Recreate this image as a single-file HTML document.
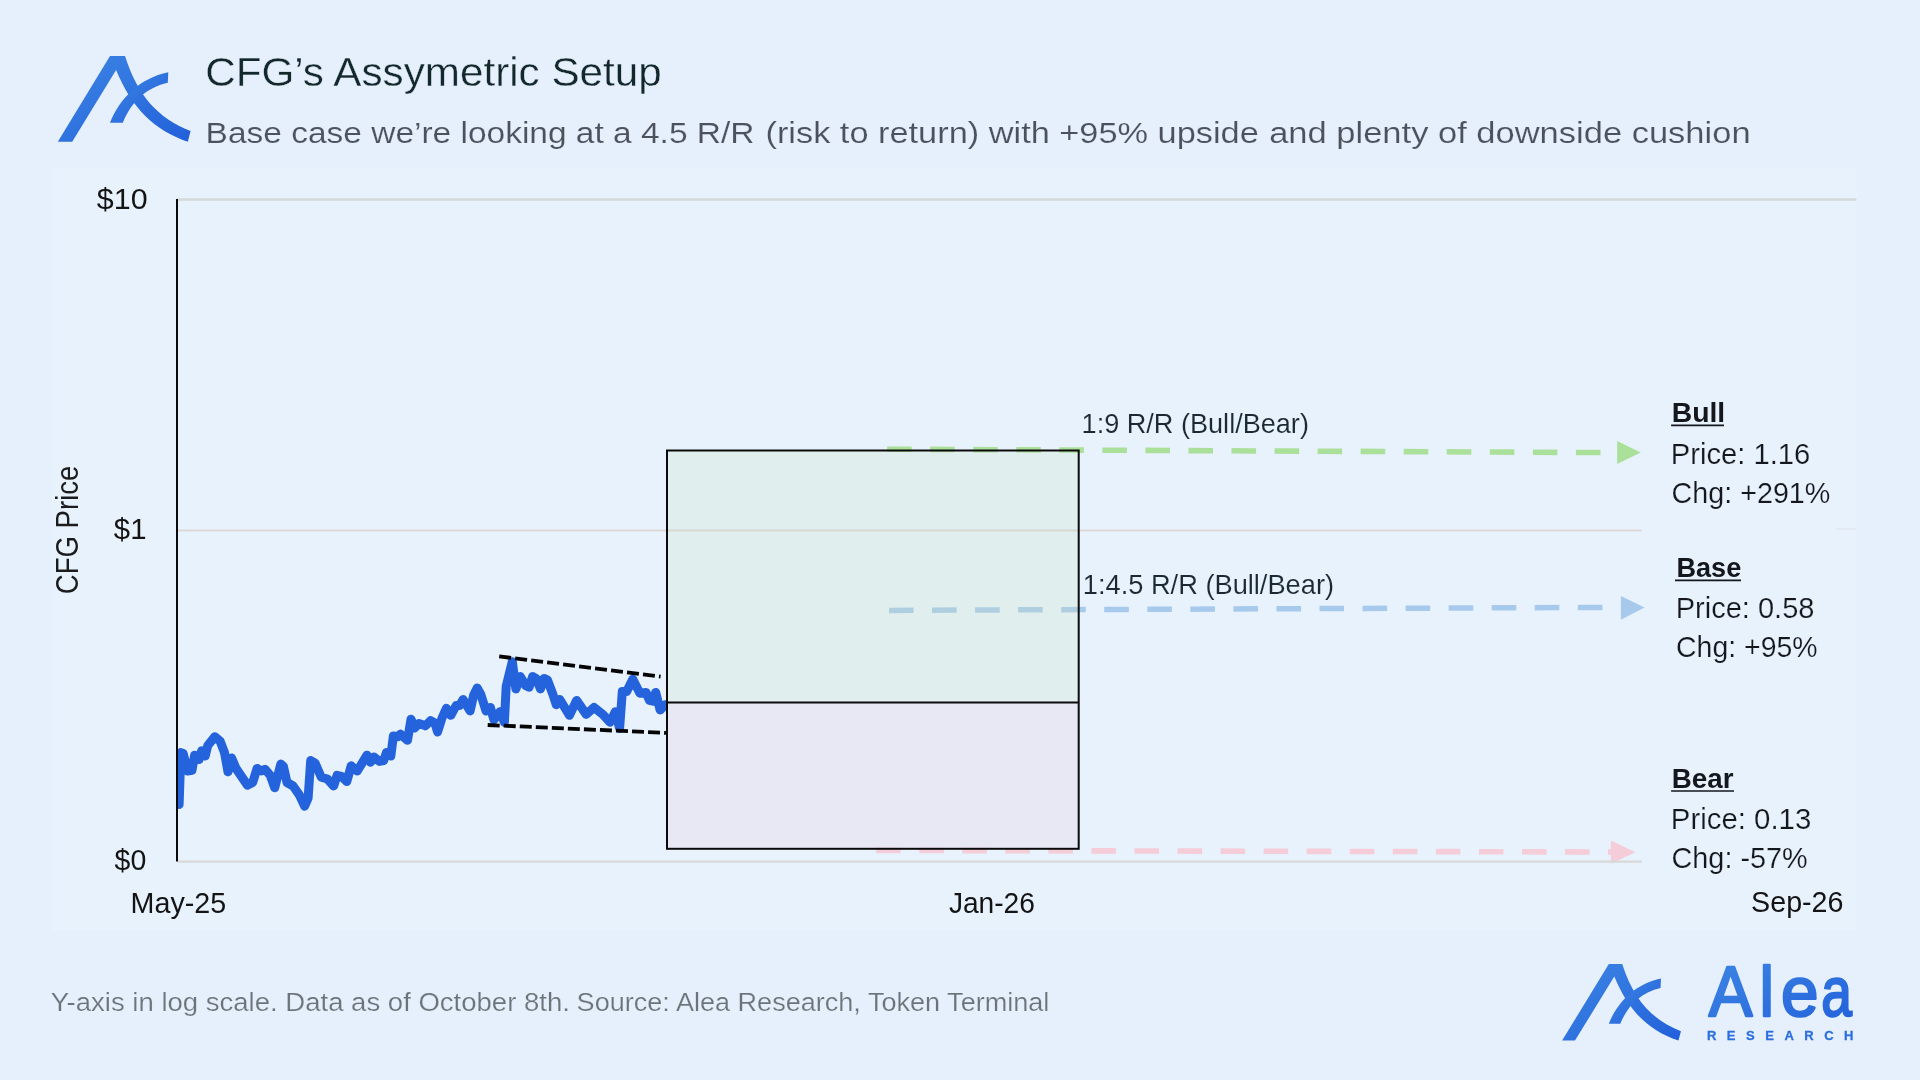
<!DOCTYPE html>
<html lang="en">
<head>
<meta charset="utf-8">
<title>CFG's Assymetric Setup</title>
<style>
html,body{margin:0;padding:0;background:#e6effc;}
body{width:1920px;height:1080px;overflow:hidden;position:relative;font-family:"Liberation Sans",sans-serif;}
svg{position:absolute;left:0;top:0;display:block;will-change:transform;}
text{font-family:"Liberation Sans",sans-serif;}
.b{font-weight:700;}
</style>
</head>
<body>
<svg width="1920" height="1080" viewBox="0 0 1920 1080">
<defs>
<linearGradient id="lg" x1="0" y1="0" x2="1" y2="1">
<stop offset="0" stop-color="#3d86e4"/><stop offset="1" stop-color="#2260da"/>
</linearGradient>
<g id="logo">
<path d="M0,85.6 L52.2,0 L67.2,0 C80,40 100,62 132.8,75 L130,85.6 C96,74 74,52 58.3,13.9 L14.4,85.6 Z" fill="url(#lg)"/>
<path d="M52.2,66.7 C62,42 82,22 110.5,16.1 L110,26.7 C88,32 74,45 65,66.7 Z" fill="url(#lg)"/>
</g>
<clipPath id="cl"><rect x="176.5" y="600" width="490" height="260"/></clipPath>
</defs>
<rect x="0" y="0" width="1920" height="1080" fill="#e6effc"/>
<!-- chart panel -->
<rect x="52" y="168" width="1804.5" height="763" fill="#e8f2fd"/>
<!-- gridlines -->
<line x1="177" y1="199.5" x2="1856.5" y2="199.5" stroke="#d6d9d9" stroke-width="2.3"/>
<line x1="177" y1="530.5" x2="1641.5" y2="530.5" stroke="#dbd7d7" stroke-width="2"/>
<line x1="1836" y1="529" x2="1856" y2="529" stroke="#dde3e8" stroke-width="1.2"/>
<!-- price line -->
<polyline points="179.1,804.5 180.9,752.6 183.2,753.5 187.6,771.0 192.0,770.2 194.6,755.2 199.0,759.6 201.7,750.8 205.2,756.1 207.8,745.5 214.9,736.7 220.1,741.1 224.5,752.6 228.0,771.9 231.6,757.9 236.0,768.4 247.4,785.1 252.7,782.5 257.1,768.4 261.5,771.0 265.0,769.3 270.3,775.4 274.7,787.8 280.8,764.0 283.5,766.6 287.0,782.5 293.1,786.0 299.3,794.8 304.6,806.2 308.1,798.3 310.7,760.5 315.1,763.1 321.3,777.2 327.4,779.0 333.6,786.0 337.1,775.4 341.5,776.3 346.8,781.6 351.2,765.8 357.3,771.0 367.0,755.2 370.5,762.2 374.0,757.0 379.3,761.4 383.7,760.5 386.4,752.6 390.8,756.1 393.4,735.9 397.8,736.7 400.4,734.1 407.5,740.3 411.0,719.2 414.5,728.0 418.9,723.6 424.2,725.3 425.3,725.9 430.6,720.6 435.0,723.2 437.6,732.0 442.0,718.0 446.4,708.3 450.8,715.3 456.1,705.6 459.6,705.6 463.1,699.5 470.1,710.9 473.7,695.1 477.2,688.0 480.7,694.2 486.0,710.9 490.4,707.4 493.9,719.7 500.0,711.8 504.4,722.3 506.2,686.3 512.3,661.7 515.9,688.9 520.3,676.6 525.5,685.4 529.1,687.2 532.6,676.6 536.1,678.4 540.5,688.9 544.0,678.4 547.5,680.1 552.8,694.2 556.3,704.8 559.8,699.5 569.5,715.3 576.6,700.4 586.2,714.4 594.1,707.4 602.9,714.4 610.0,722.3 615.3,711.8 619.6,728.5 622.3,691.6 626.7,691.6 632.8,679.3 639.9,693.3 646.0,692.4 649.5,700.4 653.1,701.2 655.7,692.4 660.1,710.0 665.4,704.8" clip-path="url(#cl)" fill="none" stroke="#2463dc" stroke-width="9" stroke-linejoin="round" stroke-linecap="round"/>
<!-- y axis -->
<line x1="177" y1="199" x2="177" y2="861.5" stroke="#0a0a0a" stroke-width="2"/>
<!-- channel -->
<line x1="499.2" y1="656.4" x2="660.6" y2="676.65" stroke="#050505" stroke-width="3.8" stroke-dasharray="12 4.1"/>
<line x1="487.7" y1="725" x2="666.3" y2="732.9" stroke="#050505" stroke-width="3.8" stroke-dasharray="12 4.05"/>
<!-- dashed arrows (behind box) -->
<line x1="887.1" y1="449.2" x2="1602" y2="452.55" stroke="#abe09b" stroke-width="5.6" stroke-dasharray="24.6 18.45"/>
<polygon points="1617.2,440.9 1640.8,452.5 1617.2,464.1" fill="#abe09b"/>
<line x1="889" y1="610.4" x2="1604" y2="607.4" stroke="#a7caec" stroke-width="5.5" stroke-dasharray="24.6 18.45"/>
<polygon points="1620.9,595.9 1644.6,607.6 1620.9,619.7" fill="#a7caec"/>
<line x1="876.2" y1="850.4" x2="1592" y2="851.95" stroke="#f4cdd9" stroke-width="5.6" stroke-dasharray="24.6 18.45"/>
<line x1="1608" y1="852" x2="1612" y2="852" stroke="#f4cdd9" stroke-width="5.6"/>
<polygon points="1610.9,840.6 1635.5,852.2 1610.9,863.8" fill="#f4cdd9"/>
<line x1="178" y1="861.6" x2="1641.8" y2="861.6" stroke="#d7d9d9" stroke-width="2.3"/>
<!-- boxes -->
<rect x="667" y="450.5" width="411.7" height="251.7" fill="rgb(200,225,190)" fill-opacity="0.24" stroke="none"/>
<rect x="667" y="702.2" width="411.7" height="146.6" fill="rgb(232,200,220)" fill-opacity="0.25" stroke="none"/>
<rect x="667" y="450.5" width="411.7" height="398.3" fill="none" stroke="#0a0a0a" stroke-width="2"/>
<line x1="667" y1="702.5" x2="1078.7" y2="702.5" stroke="#0a0a0a" stroke-width="2"/>
<!-- axis text -->
<text x="96.78" y="208.6" font-size="29" textLength="50.80" lengthAdjust="spacingAndGlyphs" fill="#141414">$10</text>
<text x="113.88" y="538.8" font-size="29" textLength="32.60" lengthAdjust="spacingAndGlyphs" fill="#141414">$1</text>
<text x="114.56" y="870" font-size="29" textLength="31.68" lengthAdjust="spacingAndGlyphs" fill="#141414">$0</text>
<text x="130.62" y="912.5" font-size="29" textLength="95.62" lengthAdjust="spacingAndGlyphs" fill="#141414">May-25</text>
<text x="948.88" y="912.5" font-size="29" textLength="86.04" lengthAdjust="spacingAndGlyphs" fill="#141414">Jan-26</text>
<text x="1751.08" y="912.0" font-size="29" textLength="92.40" lengthAdjust="spacingAndGlyphs" fill="#141414">Sep-26</text>
<text transform="translate(78.3,594.2) rotate(-90)" font-size="32" fill="#1c1c1c" textLength="128.6" lengthAdjust="spacingAndGlyphs">CFG Price</text>
<!-- R/R labels -->
<text x="1081.60" y="433.4" font-size="28" textLength="227.32" lengthAdjust="spacingAndGlyphs" fill="#1c2930" stroke="#e8f2fd" stroke-width="0.1">1:9 R/R (Bull/Bear)</text>
<text x="1082.82" y="593.8" font-size="28" textLength="251.22" lengthAdjust="spacingAndGlyphs" fill="#1c2930" stroke="#e8f2fd" stroke-width="0.1">1:4.5 R/R (Bull/Bear)</text>
<!-- scenario labels -->
<text class="b" x="1671.74" y="422.4" font-size="27.5" textLength="53.52" lengthAdjust="spacingAndGlyphs" fill="#14171b">Bull</text>
<text x="1670.82" y="463.5" font-size="29" textLength="139.54" lengthAdjust="spacingAndGlyphs" fill="#14171b" stroke="#e8f2fd" stroke-width="0.2">Price: 1.16</text>
<text x="1671.52" y="503.0" font-size="29" textLength="158.84" lengthAdjust="spacingAndGlyphs" fill="#14171b" stroke="#e8f2fd" stroke-width="0.2">Chg: +291%</text>
<text class="b" x="1676.52" y="577.4" font-size="27.5" textLength="64.72" lengthAdjust="spacingAndGlyphs" fill="#14171b">Base</text>
<text x="1675.72" y="617.6" font-size="29" textLength="138.74" lengthAdjust="spacingAndGlyphs" fill="#14171b" stroke="#e8f2fd" stroke-width="0.2">Price: 0.58</text>
<text x="1676.08" y="657.2" font-size="29" textLength="141.50" lengthAdjust="spacingAndGlyphs" fill="#14171b" stroke="#e8f2fd" stroke-width="0.2">Chg: +95%</text>
<text class="b" x="1671.74" y="788.3" font-size="27.5" textLength="61.70" lengthAdjust="spacingAndGlyphs" fill="#14171b">Bear</text>
<text x="1670.82" y="828.6" font-size="29" textLength="140.42" lengthAdjust="spacingAndGlyphs" fill="#14171b" stroke="#e8f2fd" stroke-width="0.2">Price: 0.13</text>
<text x="1671.52" y="868.4" font-size="29" textLength="136.16" lengthAdjust="spacingAndGlyphs" fill="#14171b" stroke="#e8f2fd" stroke-width="0.2">Chg: -57%</text>
<!-- underlines -->
<line x1="1671.1" y1="425.4" x2="1724" y2="425.4" stroke="#14171b" stroke-width="1.6"/>
<line x1="1675" y1="580.4" x2="1741" y2="580.4" stroke="#14171b" stroke-width="1.6"/>
<line x1="1671.1" y1="791" x2="1734" y2="791" stroke="#14171b" stroke-width="1.6"/>
<!-- header -->
<use href="#logo" transform="translate(57.8,56.1)"/>
<text x="205.18" y="85.6" font-size="40.5" textLength="456.54" lengthAdjust="spacingAndGlyphs" fill="#12282b" stroke="#e6effc" stroke-width="0.35">CFG’s Assymetric Setup</text>
<text y="142.9" font-size="30.2" fill="#4b525c" stroke="#e6effc" stroke-width="0.15"><tspan x="205.60" textLength="548.90" lengthAdjust="spacingAndGlyphs">Base case we’re looking at a 4.5 R/R</tspan> <tspan x="765.50" textLength="493.30" lengthAdjust="spacingAndGlyphs">(risk to return) with +95% upside</tspan> <tspan x="1269.20" textLength="481.40" lengthAdjust="spacingAndGlyphs">and plenty of downside cushion</tspan></text>
<!-- footer -->
<text y="1010.6" font-size="26.4" fill="#6b7479" stroke="#e6effc" stroke-width="0.2"><tspan x="50.74" textLength="519.18" lengthAdjust="spacingAndGlyphs">Y-axis in log scale. Data as of October 8th.</tspan> <tspan x="576.62" textLength="472.76" lengthAdjust="spacingAndGlyphs">Source: Alea Research, Token Terminal</tspan></text>
<use href="#logo" transform="translate(1562.1,964) scale(0.895)"/>
<text y="1016" font-size="70" fill="url(#lg)" stroke="url(#lg)" stroke-width="2.4" stroke-linejoin="round"><tspan x="1708.80" textLength="43.7" lengthAdjust="spacingAndGlyphs">A</tspan><tspan x="1759.40" textLength="14.5" lengthAdjust="spacingAndGlyphs">l</tspan><tspan x="1780.90" textLength="37.5" lengthAdjust="spacingAndGlyphs">e</tspan><tspan x="1821.20" textLength="30.6" lengthAdjust="spacingAndGlyphs">a</tspan></text>
<text x="1706.9" y="1039.6" font-size="13" font-weight="700" fill="#2b6fdf" stroke="#2b6fdf" stroke-width="0.3" textLength="146.6" lengthAdjust="spacing">RESEARCH</text>
</svg>
</body>
</html>
